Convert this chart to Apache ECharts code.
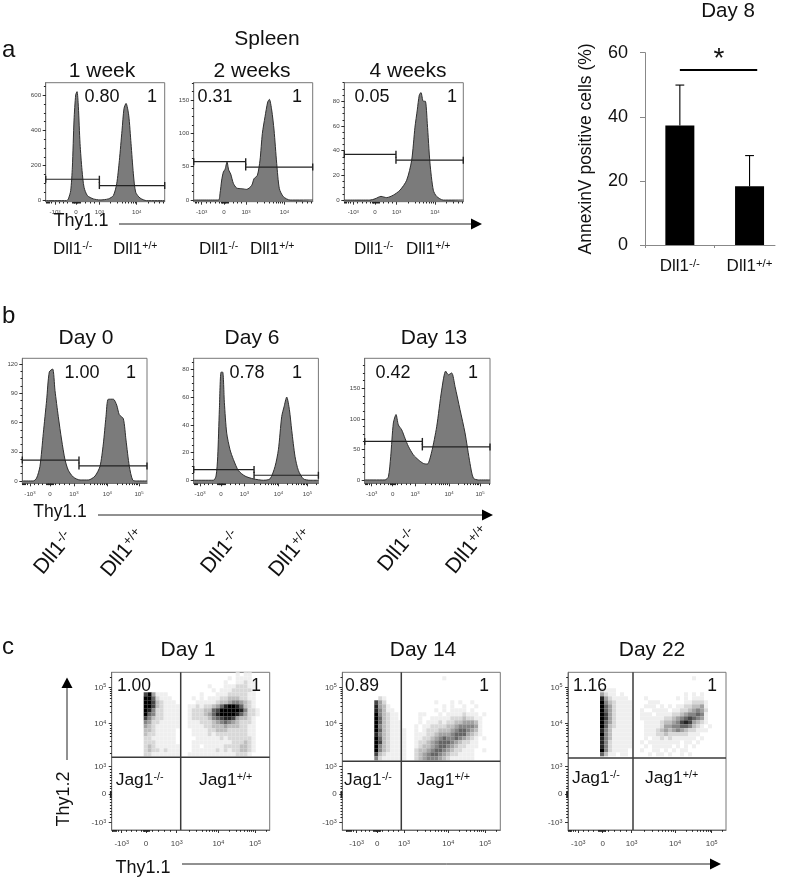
<!DOCTYPE html>
<html><head><meta charset="utf-8">
<style>html,body{margin:0;padding:0;background:#fff}#c{width:787px;height:880px}</style>
<script src="https://cdn.jsdelivr.net/npm/echarts@6/dist/echarts.min.js"></script>
</head><body><div id="c"></div>
<script>
// ---- histogram data: display channel / cell count ----
const a1Chan=[0,63,68,75,80,85,90,94,98,103,109,115,125,143,163,188,203,213,221,229,235,241,249,256,263,270,283,303,357];
const a1Count=[0,0,10,57,191,459,602,621,535,325,172,76,29,10,4,10,29,96,229,401,526,554,487,325,153,48,15,0,0];
const a2Chan=[0,74,79,84,89,94,100,105,111,119,129,144,159,174,181,191,199,206,214,222,227,234,241,249,257,269,289,357];
const a2Count=[0,0,10,30,42,46,57,45,39,25,18,17,16,22,32,37,60,100,125,147,151,135,105,55,17,5,0,0];
const a3Chan=[0,77,92,110,127,147,167,187,202,212,219,225,230,237,243,249,257,267,277,297,357];
const a3Count=[0,0,1,3,2,4,8,16,32,59,73,85,87,80,80,62,30,8,3,0,0];
const b1Chan=[0,33,43,53,63,73,81,91,98,108,118,128,138,153,173,198,218,233,243,251,258,273,283,291,303,311,321,331,343,374];
const b1Count=[0,0,3,15,49,83,112,115,93,66,42,22,11,4,1,1,5,15,38,66,84,84,78,68,64,42,15,1,0,0];
const b2Chan=[0,59,67,72,77,82,87,92,99,109,119,134,154,179,209,229,244,254,264,271,279,287,294,304,314,329,349,374];
const b2Count=[0,0,3,17,51,78,78,56,34,22,15,7,3,1,0,1,10,22,46,53,60,51,36,17,7,1,0,0];
const b3Chan=[0,61,71,78,86,94,101,111,121,131,146,161,176,188,201,216,231,243,251,261,271,286,301,316,326,341,376];
const b3Count=[0,0,5,38,93,107,90,82,68,55,41,33,27,26,46,87,147,178,172,175,153,115,77,27,3,0,0];

// ---- gates: [left level, right level, boundary channel] ----
const a1Gate=[122,86,161], a2Gate=[57.5,49.5,156], a3Gate=[37,32.3,155];
const b1Gate=[21.5,15.4,170], b2Gate=[7.7,3.6,181], b3Gate=[63,54,173];

// ---- dot plot density (0 blank .. 9 solid), one string per row ----
const c1Density=[
"0000000000000000000000000000000101100000",
"0000000000000000000000000000010111100000",
"0000000000000000000000000000100112110000",
"0000000000000000000000001000111222110000",
"0000000000000000000000000101112222210000",
"0000000079411100000000100011122222110000",
"0000000099621110000010101112233322110000",
"0000000099732111000001111123345543210000",
"0000000099732111100112122346899863210000",
"0000000098522111100122233679999985221000",
"0000000096522111100122234689999864221000",
"0000000075322111100122223567887433210000",
"0000000054221111100111222345654322210000",
"0000000043211111100111122333433322110000",
"0000000033211111000011112233322222110000",
"0000000032211111000011112122222222110000",
"0000000022111111000001111112122222210000",
"0000000022211111000011111111112223210000",
"0000000023211111100011011111222233210000",
"0000000023221211100011111121212233210000",
"0000000022111111100111111111111222100000"];
const c2Density=[
"0000000000000000000000000000000000000000",
"0000000000000000000000000100000000000000",
"0000000000000000000000000000000000000000",
"0000000000000000000000000000000000000000",
"0000000000000000000000000000000000000000",
"0000000000000000000000000000000000000000",
"0000000002100000000000000000000000000000",
"0000000074200000000000010001010010000000",
"0000000084310000000000000101001001000000",
"0000000085311000000000010101111010000000",
"0000000095321100000110001011112111010000",
"0000000096321100000100111112223221100000",
"0000000096321110000101112122334443100000",
"0000000095321110001011222233455554100000",
"0000000096321111001012223334566543100000",
"0000000085321111001112234445666432100000",
"0000000096321111001122345655654321010000",
"0000000097321111001223456665432211000000",
"0000000095321111001233456654322111000000",
"0000000095321111002334566543221110010000",
"0000000073211111002345665432211110000000",
"0000000052111111002345554321111110000000"];
const c3Density=[
"0000000000000000000000000000000000000000",
"0000000000000000000000000000000100000000",
"0000000000000000000000000000000000000000",
"0000000000000000000000000000000000000000",
"0000000021110000000000000000000000000000",
"0000000042110100000000000000010101000000",
"0000000084211110000100000001010111000000",
"0000000095321111000011100000011222100000",
"0000000096421111000111010101122334100000",
"0000000096421111001001111011223454200000",
"0000000097421111001110111122345565100000",
"0000000097421111001111112234567654100000",
"0000000096421111000111123345787432100000",
"0000000096321111000111124455665321010000",
"0000000085311111000111234345432211100000",
"0000000095311111000111223222221110000000",
"0000000085311111000101121211111101000000",
"0000000085211111001011111111011010000000",
"0000000085211111000101111101010100000000",
"0000000095211110001001101010110000000000",
"0000000063110110000010110100101000000000"];
// quadrant lines: [vertical channel, horizontal channel]
const c1Quad=[207,218], c2Quad=[177,206], c3Quad=[195,216];

// ---- bar chart ----
const barCategories=['Dll1{s|-/-}','Dll1{s|+/+}'];
const barValues=[37.3,18.3];
const barErrorTops=[49.9,27.9];
const sigLine=[[0,54.6],[1.11,54.6]];

// ---- tick values ----
const FONT='"Liberation Sans", Arial, sans-serif';
const xLab3=['-10{s|3}','0','10{s|3}','10{s|4}'];
const xLab4=['-10{s|3}','0','10{s|3}','10{s|4}','10{s|5}'];
const yLabC=['-10{s|3}','0','10{s|3}','10{s|4}','10{s|5}'];

const panels=[
 {l:45.7,t:82.7,w:119,h:119,W:357,y0:-6,y1:672,cx:a1Chan,cy:a1Count,g:a1Gate,xt:[28,91,161,273],xl:xLab3,yt:[0,200,400,600],ym:50},
 {l:193.7,t:82.7,w:119,h:119,W:357,y0:-2.5,y1:176,cx:a2Chan,cy:a2Count,g:a2Gate,xt:[24,91,157,272],xl:xLab3,yt:[0,50,100,150],ym:12.5},
 {l:344.3,t:82.7,w:119,h:119,W:357,y0:-1.3,y1:95,cx:a3Chan,cy:a3Count,g:a3Gate,xt:[27,92,157,272],xl:xLab3,yt:[0,20,40,60,80],ym:5},
 {l:22.3,t:358.3,w:124.7,h:125,W:374,y0:-2.4,y1:126,cx:b1Chan,cy:b1Count,g:b1Gate,xt:[23,83,155,255,350],xl:xLab4,yt:[0,30,60,90,120],ym:7.5},
 {l:193.7,t:358.3,w:124.7,h:125,W:374,y0:-2.2,y1:88,cx:b2Chan,cy:b2Count,g:b2Gate,xt:[19,82,152,254,341],xl:xLab4,yt:[0,20,40,60,80],ym:5},
 {l:364.7,t:358.3,w:125.3,h:125,W:376,y0:-5.5,y1:199,cx:b3Chan,cy:b3Count,g:b3Gate,xt:[21,84,151,253,346],xl:xLab4,yt:[0,50,100,150],ym:12.5}
];
const dots=[
 {l:111.7,d:c1Density,q:c1Quad,xt:[30,103,195,320,430],yt:[22,108,190,319,428]},
 {l:342.3,d:c2Density,q:c2Quad,xt:[43,105,185,318,428],yt:[22,108,190,319,428]},
 {l:568,d:c3Density,q:c3Quad,xt:[31,104,191,321,431],yt:[22,108,190,319,428]}
];

function minorX(t){ // biexponential sub-ticks between the major positions
  const out=[], z=t[1];
  for(let i=-4;i<=4;i++) out.push(z+i*2.2);
  for(let f=.2;f<1;f+=.2){out.push(t[0]+(z-t[0])*f);out.push(z+(t[2]-z)*f);}
  for(let i=2;i<t.length-1;i++) for(let k=2;k<10;k++) out.push(t[i]+(t[i+1]-t[i])*Math.log10(k));
  const last=t.length-1, step=t[last]-t[last-1];
  for(let k=2;k<10;k++){ out.push(t[last]+step*Math.log10(k)); out.push(t[0]-step*Math.log10(k)*.3); }
  return out;
}
function clip(a,lo,hi){return a.filter(v=>v>=lo&&v<=hi);}
const GREY='#6d6d6d';
const grid=[],xAxis=[],yAxis=[],series=[];
function addPlot(l,t,w,h,W,y0,y1,xt,xl,yt,yl,xm,ym,fs){
  const gi=grid.length;
  grid.push({left:l,top:t,width:w,height:h,show:true,borderColor:'#777',borderWidth:1,backgroundColor:'transparent'});
  const rich={s:{fontSize:fs*.68,fontFamily:FONT,color:'#444',verticalAlign:'top'},b:{fontSize:fs,fontFamily:FONT,color:'#444'}};
  const fmtX=v=>xl[xt.indexOf(v)].replace(/^([^{]+)(\{|$)/,'{b|$1}$2');
  const fmtY=v=>String(yl[yt.indexOf(v)]).replace(/^([^{]+)(\{|$)/,'{b|$1}$2');
  const xi=xAxis.length;
  xAxis.push({type:'value',gridIndex:gi,min:0,max:W,
    axisLine:{onZero:false,lineStyle:{color:GREY}},splitLine:{show:false},
    axisTick:{customValues:xt,length:3,lineStyle:{color:'#333'}},
    axisLabel:{customValues:xt,formatter:fmtX,rich,margin:fs*.95+2,hideOverlap:false,color:'#444',fontSize:fs}});
  xAxis.push({type:'value',gridIndex:gi,min:0,max:W,position:'bottom',
    axisLine:{show:false,onZero:false},splitLine:{show:false},axisLabel:{show:false},
    axisTick:{customValues:clip(xm,0,W),length:1.8,lineStyle:{color:'#222'}}});
  const yi=yAxis.length;
  yAxis.push({type:'value',gridIndex:gi,min:y0,max:y1,
    axisLine:{onZero:false,lineStyle:{color:GREY}},splitLine:{show:false},
    axisTick:{customValues:yt,length:3,lineStyle:{color:'#333'}},
    axisLabel:{customValues:yt,formatter:fmtY,rich,margin:fs*.5+1.5,hideOverlap:false,color:'#444',fontSize:fs}});
  yAxis.push({type:'value',gridIndex:gi,min:y0,max:y1,position:'left',
    axisLine:{show:false,onZero:false},splitLine:{show:false},axisLabel:{show:false},
    axisTick:{customValues:clip(ym,y0,y1),length:1.8,lineStyle:{color:'#222'}}});
  return [xi,yi];
}
panels.forEach(p=>{
  const ymin=[];
  for(let v=p.yt[0];v<=p.y1;v+=p.ym) ymin.push(v);
  const [xi,yi]=addPlot(p.l,p.t,p.w,p.h,p.W,p.y0,p.y1,p.xt,p.xl,p.yt,p.yt,minorX(p.xt),ymin,6.2);
  series.push({type:'line',xAxisIndex:xi,yAxisIndex:yi,data:p.cx.map((c,i)=>[c,p.cy[i]]),symbol:'none',smooth:.25,
    lineStyle:{color:'#2f2f2f',width:1},areaStyle:{color:'#7b7b7b',opacity:1,origin:'start'},animation:false,z:2});
  const mk=(d)=>({type:'line',xAxisIndex:xi,yAxisIndex:yi,data:d,symbol:'rect',symbolSize:[1.4,7],showAllSymbol:true,
    lineStyle:{color:'#222',width:1.2},itemStyle:{color:'#222'},animation:false,z:3});
  series.push(mk([[0,p.g[0]],[p.g[2],p.g[0]]]));
  series.push(mk([[p.g[2],p.g[1]],[p.W,p.g[1]]]));
});
const H=473, CELL=12;
const cellColor=v=>{const g=Math.round(255*(1-Math.pow(v/9,1.25)));return `rgb(${g},${g},${g})`;};
dots.forEach(p=>{
  const ymin=[];p.yt.forEach((v,i)=>{ for(let k=-4;k<=4;k++) if(i===1) ymin.push(v+k*2.2);
    if(i<p.yt.length-1) for(let k=2;k<10;k++) ymin.push(i<2?v+(p.yt[i+1]-v)*k/10:v+(p.yt[i+1]-v)*Math.log10(k)); });
  const lastY=p.yt[4];for(let k=2;k<5;k++) ymin.push(lastY+100*Math.log10(k));
  const [xi,yi]=addPlot(p.l,672.3,158,157.7,474,0,H,p.xt,xLab4,p.yt,yLabC,minorX(p.xt),ymin,8);
  const cells=[];
  p.d.forEach((row,j)=>row.split('').forEach((c,i)=>{ if(c!=='0') cells.push([(i+.5)*CELL,H-(j+.5)*CELL,+c]); }));
  series.push({type:'scatter',xAxisIndex:xi,yAxisIndex:yi,data:cells,symbol:'rect',symbolSize:4.05,
    itemStyle:{color:q=>cellColor(q.value[2]),opacity:1},animation:false,z:2,silent:true});
  const ln=d=>({type:'line',xAxisIndex:xi,yAxisIndex:yi,data:d,symbol:'none',lineStyle:{color:'#3a3a3a',width:1.5},animation:false,z:3});
  series.push(ln([[p.q[0],0],[p.q[0],H]]));
  series.push(ln([[0,p.q[1]],[474,p.q[1]]]));
});

// bar chart
const bg=grid.length;
grid.push({left:645,top:52.7,width:130,height:192.3});
const bx=xAxis.length, by=yAxis.length;
const barXs=barValues.map((_,i)=>i);
xAxis.push({type:'value',gridIndex:bg,min:-0.5,max:1.365,
  axisLine:{onZero:false,lineStyle:{color:'#888',width:1}},splitLine:{show:false},
  axisTick:{customValues:[-0.5,0.5],length:3,lineStyle:{color:'#888'}},
  axisLabel:{customValues:barXs,formatter:v=>barCategories[v].replace('Dll1','{a|Dll1}'),margin:13,
    rich:{a:{fontSize:17,fontFamily:FONT,color:'#111'},s:{fontSize:11.5,fontFamily:FONT,color:'#111',verticalAlign:'top'}}}});
yAxis.push({type:'value',gridIndex:bg,min:0,max:60,interval:20,
  name:'AnnexinV positive cells (%)',nameLocation:'middle',nameGap:50,nameTextStyle:{fontSize:17.5,fontFamily:FONT,color:'#111'},
  axisLine:{show:true,onZero:false,lineStyle:{color:'#888',width:1}},splitLine:{show:false},
  axisTick:{show:true,length:5,lineStyle:{color:'#888'}},
  axisLabel:{fontSize:18,fontFamily:FONT,color:'#111',margin:17}});
series.push({type:'bar',xAxisIndex:bx,yAxisIndex:by,data:barValues.map((v,i)=>[i,v]),barWidth:29,itemStyle:{color:'#000'},animation:false,z:2});
series.push({type:'custom',xAxisIndex:bx,yAxisIndex:by,data:barValues.map((v,i)=>[i,v,barErrorTops[i]]),animation:false,z:3,
  renderItem:(params,api)=>{
    const a=api.coord([api.value(0),api.value(1)]),b=api.coord([api.value(0),api.value(2)]);
    const st={stroke:'#000',lineWidth:1.1};
    return {type:'group',children:[
      {type:'line',shape:{x1:a[0],y1:a[1],x2:b[0],y2:b[1]},style:st},
      {type:'line',shape:{x1:b[0]-4.4,y1:b[1],x2:b[0]+4.4,y2:b[1]},style:st}]};
  }});
series.push({type:'line',xAxisIndex:bx,yAxisIndex:by,data:sigLine,symbol:'none',lineStyle:{color:'#000',width:2},animation:false,z:3});

// ---- text ----
const txt=(text,x,y,size,opt={})=>{
  const sup=opt.sup||size*.62;
  const m=text.match(/^(.*?)\^(.*)$/);
  const style={fontFamily:FONT,fontSize:size,fill:'#111',align:opt.align||'center',verticalAlign:'middle'};
  if(m){style.text=`{a|${m[1]}}{s|${m[2]}}`;
    style.rich={a:{fontSize:size,fontFamily:FONT,fill:'#111',color:'#111'},s:{fontSize:sup,fontFamily:FONT,fill:'#111',color:'#111',verticalAlign:'top'}};}
  else style.text=text;
  return {type:'text',x,y,rotation:(opt.rot||0)*Math.PI/180,style,silent:true,z:10};
};
const arrowH=(x1,x2,y)=>[
  {type:'line',shape:{x1,y1:y,x2:x2-10,y2:y},style:{stroke:'#222',lineWidth:1},z:10},
  {type:'polygon',shape:{points:[[x2-11,y-5.5],[x2,y],[x2-11,y+5.5]]},style:{fill:'#000'},z:10}];
const DM='Dll1^-/-',DP='Dll1^+/+',JM='Jag1^-/-',JP='Jag1^+/+';
const graphics=[
 txt('a',2,50,24,{align:'left'}),txt('b',2,316,24,{align:'left'}),txt('c',2,647,24,{align:'left'}),
 txt('Spleen',267,39,21),txt('1 week',102,71,21),txt('2 weeks',252,71,21),txt('4 weeks',408,71,21),
 txt('0.80',102,97,18),txt('1',152,97,18),txt('0.31',215,97,18),txt('1',297,97,18),txt('0.05',372,97,18),txt('1',452,97,18),
 txt('Thy1.1',81,221,18),
 txt(DM,53,249,17,{align:'left'}),txt(DP,113,249,17,{align:'left'}),txt(DM,199,249,17,{align:'left'}),txt(DP,250,249,17,{align:'left'}),txt(DM,354,249,17,{align:'left'}),txt(DP,406,249,17,{align:'left'}),
 ...arrowH(119,482,224),
 txt('Day 8',728,11,20.5),txt('*',719,59,28),
 txt('Day 0',86,338,21),txt('Day 6',252,338,21),txt('Day 13',434,338,21),
 txt('1.00',82,373,18),txt('1',131,373,18),txt('0.78',247,373,18),txt('1',297,373,18),txt('0.42',393,373,18),txt('1',473,373,18),
 txt('Thy1.1',60,512,17.5),...arrowH(98,493,515),
 txt(DM,54,553,21,{rot:50,sup:13}),txt(DP,123,553,21,{rot:50,sup:13}),txt(DM,221,552,21,{rot:50,sup:13}),txt(DP,291,553,21,{rot:50,sup:13}),txt(DM,398,550,21,{rot:50,sup:13}),txt(DP,468,550,21,{rot:50,sup:13}),
 txt('Day 1',188,650,21),txt('Day 14',423,650,21),txt('Day 22',652,650,21),
 txt('1.00',134,686,17.5),txt('1',256,686,17.5),txt('0.89',362,686,17.5),txt('1',484,686,17.5),txt('1.16',590,686,17.5),txt('1',712,686,17.5),
 txt(JM,115.7,780,17.4,{align:'left'}),txt(JP,199,780,17.4,{align:'left'}),txt(JM,344,780,17.4,{align:'left'}),txt(JP,416.7,780,17.4,{align:'left'}),txt(JM,572,778,17.4,{align:'left'}),txt(JP,645,778,17.4,{align:'left'}),
 txt('Thy1.2',64,799,18,{rot:90}),txt('Thy1.1',143,868,18),
 ...arrowH(182,721,864),
 {type:'line',shape:{x1:67,y1:760,x2:67,y2:686},style:{stroke:'#222',lineWidth:1},z:10},
 {type:'polygon',shape:{points:[[61.5,688],[67,677.5],[72.5,688]]},style:{fill:'#000'},z:10}
];
const chart=echarts.init(document.getElementById('c'),null,{renderer:'canvas'});
chart.setOption({animation:false,backgroundColor:'#fff',grid,xAxis,yAxis,series,graphic:{elements:graphics}});
</script></body></html>
